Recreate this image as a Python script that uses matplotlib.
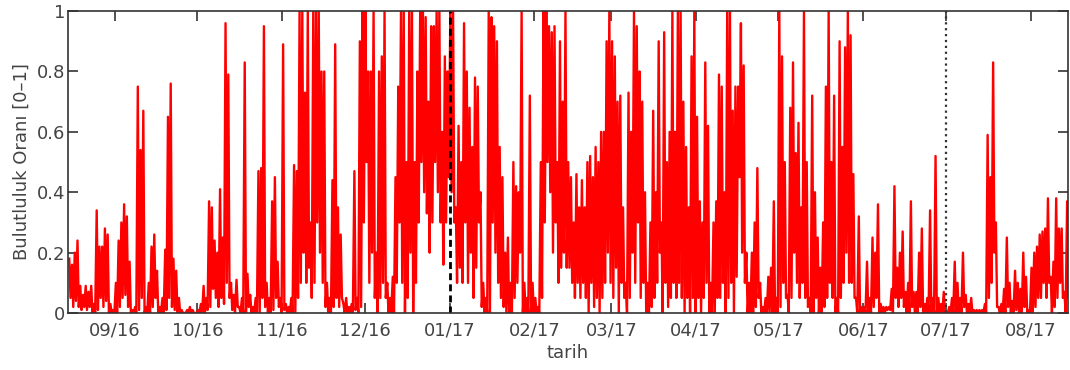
#!/usr/bin/env python3
import matplotlib
matplotlib.use('Agg')
import matplotlib.pyplot as plt
import matplotlib.dates as mdates
import numpy as np
import datetime as dt

# daily peak / trough of cloud fraction (one list per month)
aug16_peak = [0.18, 0.16, 0.20, 0.24, 0.09, 0.06, 0.09, 0.07, 0.09, 0.03, 0.34, 0.22, 0.22, 0.28, 0.26, 0.03, 0.01]
aug16_low = [0.05, 0.02, 0.04, 0.02, 0.01, 0.02, 0.01, 0.02, 0, 0, 0.01, 0.05, 0.02, 0.04, 0, 0, 0]
sep16_peak = [0.10, 0.24, 0.30, 0.36, 0.32, 0.17, 0.01, 0.02, 0.75, 0.54, 0.67, 0.02, 0.10, 0.22, 0.26,
              0.14, 0.02, 0.05, 0.21, 0.65, 0.76, 0.18, 0.14, 0.05, 0.01, 0.0, 0.01, 0.02, 0.01, 0.0]
sep16_low = [0, 0.02, 0.05, 0.06, 0.02, 0, 0, 0, 0.01, 0.05, 0, 0, 0, 0.02, 0.05,
             0, 0, 0, 0.01, 0.05, 0.02, 0.01, 0, 0, 0, 0, 0, 0, 0, 0]
oct16_peak = [0.01, 0.03, 0.09, 0.05, 0.37, 0.35, 0.24, 0.20, 0.41, 0.25, 0.96, 0.79, 0.10, 0.06, 0.11, 0.02,
              0.05, 0.83, 0.13, 0.06, 0.02, 0.05, 0.47, 0.48, 0.95, 0.10, 0.05, 0.37, 0.45, 0.17, 0.05]
oct16_low = [0, 0, 0, 0.01, 0.02, 0.08, 0.05, 0.02, 0.05, 0.03, 0.10, 0.05, 0.01, 0, 0.02, 0,
             0, 0, 0.02, 0, 0, 0, 0, 0.05, 0.02, 0, 0, 0.01, 0.05, 0.02, 0]
nov16_peak = [0.89, 0.03, 0.02, 0.05, 0.49, 0.47, 1.0, 1.0, 0.73, 1.0, 0.3, 1.0, 1.0, 1.0, 0.8,
              0.8, 0.1, 0.05, 0.44, 0.89, 0.35, 0.26, 0.03, 0.05, 0.02, 0.03, 0.47, 0.05, 0.9, 1.0]
nov16_low = [0.01, 0, 0, 0, 0, 0.05, 0.1, 0.2, 0.1, 0.15, 0.05, 0.1, 0.3, 0.2, 0.1,
             0.02, 0, 0, 0.02, 0.05, 0.02, 0.05, 0, 0, 0, 0, 0.01, 0, 0.02, 0.3]
dec16_peak = [1.0, 0.8, 0.8, 1.0, 0.2, 0.8, 0.85, 1.0, 0.1, 0.05, 0.12, 0.45, 0.75, 1.0, 1.0, 0.5,
              1.0, 1.0, 0.5, 0.8, 1.0, 1.0, 0.98, 0.7, 0.95, 0.95, 1.0, 1.0, 0.6, 0.85, 0.8]
dec16_low = [0.5, 0.1, 0.2, 0.05, 0, 0.05, 0.1, 0.05, 0, 0, 0, 0.1, 0.3, 0.1, 0, 0.05,
             0.2, 0, 0.1, 0.3, 0.5, 0.4, 0.33, 0.2, 0.3, 0.5, 0.4, 0.3, 0.16, 0.3, 0.45]
jan17_peak = [1.0, 1.0, 0.35, 0.62, 0.5, 0.96, 0.8, 0.68, 0.55, 0.78, 0.75, 0.4, 0.1, 0.05, 1.0, 0.98,
              0.95, 0.9, 0.55, 0.45, 0.2, 0.25, 0.1, 0.5, 0.42, 0.4, 1.0, 0.1, 0.05, 0.72, 0.1]
jan17_low = [0.4, 0.3, 0.1, 0.15, 0.1, 0.3, 0.1, 0.2, 0.05, 0.15, 0.3, 0.02, 0, 0, 0, 0.3,
             0.2, 0.1, 0.05, 0.02, 0, 0, 0, 0.05, 0.1, 0.2, 0, 0, 0, 0, 0]
feb17_peak = [0.05, 0.02, 0.5, 1.0, 1.0, 0.95, 0.93, 0.95, 0.5, 0.9, 0.7, 1.0, 0.5, 0.45,
              0.3, 0.46, 0.35, 0.44, 0.35, 0.5, 0.52, 0.45, 0.55, 0.5, 0.6, 0.6, 0.9, 1.0]
feb17_low = [0, 0, 0.05, 0.3, 0.5, 0.4, 0.2, 0.3, 0.1, 0.15, 0.2, 0.15, 0.15, 0.1,
             0.05, 0.1, 0.05, 0.1, 0.05, 0, 0.1, 0.02, 0.05, 0, 0.05, 0.1, 0.2, 0.1]
mar17_peak = [0.9, 0.85, 0.7, 0.72, 0.35, 0.1, 0.73, 0.6, 1.0, 0.95, 0.8, 0.7, 0.4, 0.1, 0.3, 0.67,
              0.4, 0.9, 0.3, 0.93, 0.5, 0.6, 1.0, 0.6, 1.0, 1.0, 0.7, 0.55, 0.35, 0.85, 1.0]
mar17_low = [0.05, 0.15, 0, 0.1, 0.05, 0, 0.05, 0.2, 0.1, 0.3, 0.05, 0.1, 0, 0, 0.02, 0.05,
             0.1, 0.2, 0, 0.1, 0.02, 0.05, 0.1, 0.05, 0.1, 0.05, 0, 0.05, 0, 0.05, 0]
apr17_peak = [0.65, 0.37, 0.3, 0.83, 0.62, 0.1, 0.3, 0.37, 0.79, 0.75, 0.4, 1.0, 1.0, 0.67, 0.75,
              0.75, 0.96, 0.82, 0.2, 0.1, 0.2, 0.3, 0.48, 0.1, 0.02, 0.05, 0.12, 0.15, 0.37, 0.05]
apr17_low = [0.05, 0, 0.05, 0.1, 0, 0, 0, 0.05, 0.05, 0.1, 0, 0.05, 0.1, 0, 0.12,
             0.45, 0.2, 0.1, 0, 0, 0, 0.02, 0.05, 0, 0, 0, 0, 0, 0, 0]
may17_peak = [1.0, 0.85, 0.5, 0.06, 0.68, 0.83, 0.53, 0.63, 0.35, 1.0, 0.5, 0.05, 0.72, 0.4, 0.25, 0.15,
              0.3, 0.75, 1.0, 0.5, 0.72, 0.05, 0.9, 0.55, 0.88, 1.0, 0.92, 0.46, 0.05, 0.32, 0.02]
may17_low = [0.02, 0.1, 0.05, 0, 0.05, 0.2, 0.1, 0.05, 0.1, 0.05, 0.02, 0, 0, 0.05, 0, 0,
             0.02, 0.05, 0.1, 0.05, 0, 0, 0.05, 0.1, 0.2, 0.1, 0.1, 0.05, 0, 0, 0]
jun17_peak = [0.02, 0.17, 0.05, 0.25, 0.2, 0.36, 0.03, 0.02, 0.02, 0.02, 0.08, 0.42, 0.15, 0.2, 0.27,
              0.07, 0.1, 0.37, 0.07, 0.07, 0.2, 0.28, 0.03, 0.05, 0.34, 0.05, 0.52, 0.05, 0.03, 0.07]
jun17_low = [0, 0, 0, 0.02, 0.05, 0, 0, 0, 0.01, 0.01, 0, 0.05, 0.02, 0.05, 0.02,
             0, 0, 0.02, 0, 0, 0.02, 0, 0, 0, 0, 0, 0, 0, 0, 0]
jul17_peak = [0.0, 0.02, 0.05, 0.17, 0.1, 0.05, 0.2, 0.06, 0.03, 0.05, 0.01, 0.01, 0.01, 0.01, 0.03, 0.59,
              0.45, 0.83, 0.3, 0.02, 0.03, 0.08, 0.25, 0.1, 0.04, 0.14, 0.1, 0.08, 0.2, 0.12, 0.01]
jul17_low = [0, 0, 0, 0, 0, 0, 0.02, 0, 0, 0, 0, 0, 0, 0, 0, 0.05,
             0.1, 0.2, 0.02, 0, 0, 0, 0.02, 0, 0, 0.01, 0, 0, 0.02, 0, 0]
aug17_peak = [0.15, 0.2, 0.22, 0.26, 0.27, 0.28, 0.38, 0.12, 0.17, 0.38, 0.28, 0.28, 0.07, 0.37]
aug17_low = [0, 0.02, 0.05, 0.05, 0.1, 0.05, 0.1, 0, 0.02, 0.05, 0.1, 0.05, 0, 0.05]

peaks = (aug16_peak + sep16_peak + oct16_peak + nov16_peak + dec16_peak + jan17_peak + feb17_peak
         + mar17_peak + apr17_peak + may17_peak + jun17_peak + jul17_peak + aug17_peak)
lows = (aug16_low + sep16_low + oct16_low + nov16_low + dec16_low + jan17_low + feb17_low
        + mar17_low + apr17_low + may17_low + jun17_low + jul17_low + aug17_low)

start = mdates.date2num(dt.datetime(2016, 8, 15))
day = start + np.arange(len(peaks))
t = np.column_stack([day + 0.3, day + 0.75]).ravel()
y = np.column_stack([peaks, lows]).ravel()

fig = plt.figure(figsize=(10.7, 3.7), dpi=100)
ax = fig.add_axes([0.0636, 0.154, 0.9345, 0.816])

ax.plot(t, y, color='#ff0000', lw=1.7)
ax.axvline(mdates.date2num(dt.datetime(2017, 1, 1)), color='k', ls='--', lw=2, dashes=(2.5, 1.5))
ax.axvline(mdates.date2num(dt.datetime(2017, 7, 1)), color='#333333', ls=':', lw=1.6)

ax.set_xlim(start - 0.15, start + 364.6)
ax.set_ylim(0, 1)
ax.xaxis_date()
ax.xaxis.set_major_locator(mdates.MonthLocator())
ax.xaxis.set_major_formatter(mdates.DateFormatter('%m/%y'))
ax.set_yticks([0, 0.2, 0.4, 0.6, 0.8, 1])
ax.set_yticklabels(['0', '0.2', '0.4', '0.6', '0.8', '1'])
ax.tick_params(direction='in', length=7, width=1.2, top=True, right=True,
               labelsize=13, labelcolor='#444444', color='#333333')
ax.tick_params(axis='x', pad=6)
ax.tick_params(axis='y', pad=2)
for s in ax.spines.values():
    s.set_color('#333333')
    s.set_linewidth(1.2)

ax.set_xlabel('tarih', fontsize=13, color='#444444', labelpad=3)
ax.set_ylabel('Bulutluluk Oranı [0–1]', fontsize=13, color='#444444', labelpad=4)

plt.savefig('out.png', dpi=100)
